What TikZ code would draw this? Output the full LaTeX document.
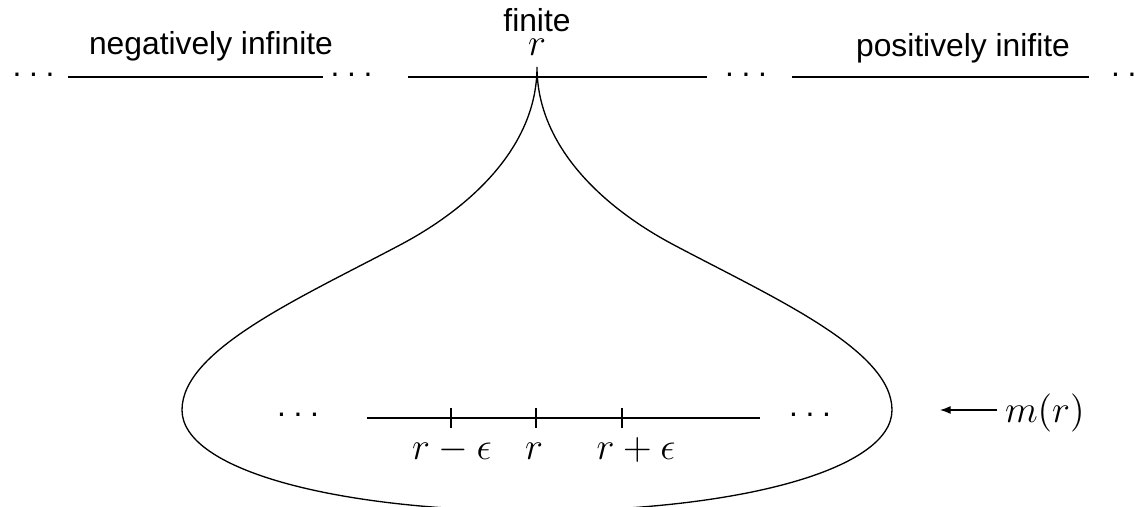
\documentclass[tikz,border=0pt]{standalone}
\usepackage{fontspec}
\setmainfont{Liberation Sans}
\usetikzlibrary{arrows.meta}
\newcommand\tridots{.\kern2.9pt.\kern2.9pt.}
\begin{document}
\begin{tikzpicture}[x=0.3774pt,y=-0.3774pt,
  font=\fontsize{12}{14}\selectfont,
  lbl/.style={inner sep=0pt, outer sep=0pt, anchor=base},
  mlbl/.style={lbl, font=\fontsize{14}{16}\selectfont},
  axis/.style={line width=0.45pt},
  loop/.style={line width=0.5pt},
  tick/.style={line width=0.45pt}]
\useasboundingbox (0,0) rectangle (1134,507);
\clip (0,0) rectangle (1134,507);
% top labels
\node[lbl] (neg) at (211,55) {negatively infinite};
\node[lbl] (fin) at (537,32) {finite};
\node[mlbl] (rtop) at (537,56) {$r$};
\node[lbl] (pos) at (963,57) {positively inifite};
% top lines
\coordinate (a1) at (68,77);  \coordinate (a2) at (323,77);
\coordinate (b1) at (408,77); \coordinate (b2) at (707,77);
\coordinate (c1) at (792,77); \coordinate (c2) at (1089,77);
\draw[axis] (a1) -- (a2);
\draw[axis] (b1) -- (b2);
\draw[axis] (c1) -- (c2);
\node[lbl] (d1) at (33.5,77) {\tridots};
\node[lbl] (d2) at (351.5,77) {\tridots};
\node[lbl] (d3) at (746,77) {\tridots};
\node[lbl,anchor=base west] (d4) at (1111,77) {\tridots};
% loop
\coordinate (top) at (537,67);
\draw[loop] (top) .. controls (537,147) and (470,208) .. (400,245)
  .. controls (300,298) and (182,350) .. (182,410)
  .. controls (182,470) and (337,511) .. (537,511)
  .. controls (737,511) and (892,470) .. (892,410)
  .. controls (892,350) and (774,298) .. (674,245)
  .. controls (604,208) and (537,147) .. (top);
% lower line
\coordinate (m1) at (367,418); \coordinate (m2) at (760,418);
\draw[axis] (m1) -- (m2);
\coordinate (t1) at (451,418); \coordinate (t2) at (536,418); \coordinate (t3) at (622,418);
\draw[tick] ([yshift=10*0.3774pt]t1) -- ([yshift=-10*0.3774pt]t1);
\draw[tick] ([yshift=10*0.3774pt]t2) -- ([yshift=-10*0.3774pt]t2);
\draw[tick] ([yshift=10*0.3774pt]t3) -- ([yshift=-10*0.3774pt]t3);
\node[mlbl] (l1) at (452,460) {$r-\epsilon$};
\node[mlbl] (l2) at (534,460) {$r$};
\node[mlbl] (l3) at (636,460) {$r+\epsilon$};
\node[lbl] (ld) at (298,417) {\tridots};
\node[lbl] (rd) at (810,417) {\tridots};
% m(r)
\node[mlbl,anchor=base west] (mr) at (1005,423) {$m(r)$};
\coordinate (arrend) at (940,410);
\draw[-{Latex[length=4pt,width=3pt]},line width=0.45pt] (mr.west |- arrend) ++(-8*0.3774pt,0) -- (arrend);
\end{tikzpicture}
\end{document}
